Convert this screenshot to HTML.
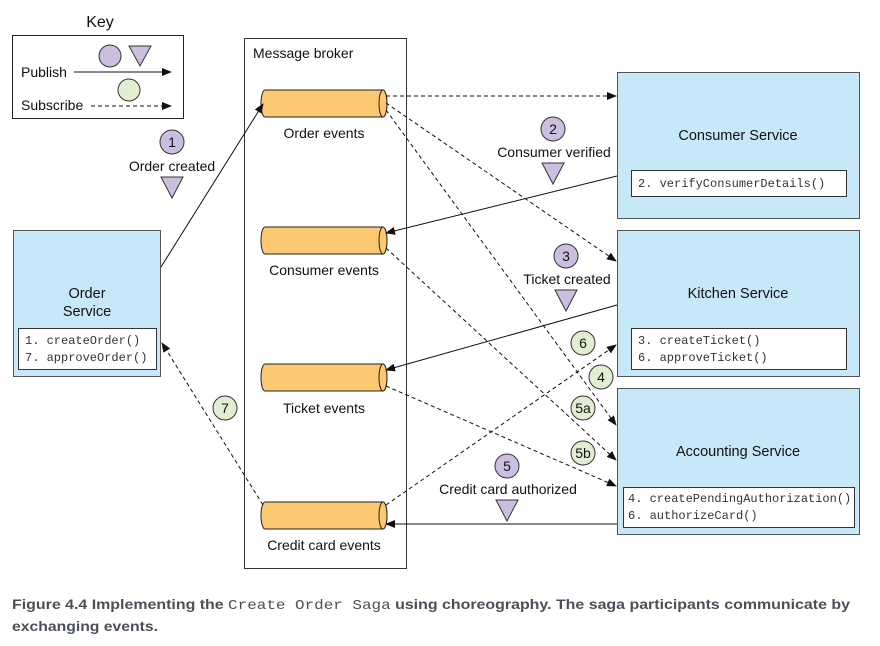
<!DOCTYPE html>
<html><head><meta charset="utf-8"><style>
html,body{margin:0;padding:0;background:#fff}
svg{display:block}
text{font-family:"Liberation Sans",sans-serif;fill:#111}
.m{font-family:"Liberation Mono",monospace;font-size:12px;fill:#333}
</style></head><body>
<svg width="880" height="646" viewBox="0 0 880 646" xmlns="http://www.w3.org/2000/svg">
<defs>
<marker id="a" markerWidth="10" markerHeight="8" refX="9" refY="4" orient="auto" markerUnits="userSpaceOnUse"><path d="M0,0 L10,4 L0,8 Z" fill="#111"/></marker>
<g id="cyl">
<path d="M0,0 H118 A4,13.5 0 0 1 118,27 H0 A4,13.5 0 0 1 0,0 Z" fill="#fdc872" stroke="#222" stroke-width="1"/>
<ellipse cx="118" cy="13.5" rx="4" ry="13.5" fill="#fdc872" stroke="#222" stroke-width="1"/>
</g>
</defs>
<!-- Key -->
<text x="100" y="27" font-size="16" text-anchor="middle">Key</text>
<rect x="12.5" y="35.5" width="171" height="83" fill="#fff" stroke="#222"/>
<circle cx="110" cy="56" r="11" fill="#cbbfe0" stroke="#333"/>
<path d="M129,46 L151,46 L140,66 Z" fill="#cbbfe0" stroke="#333"/>
<text x="21" y="77" font-size="14">Publish</text>
<line x1="74" y1="72" x2="171" y2="72" stroke="#111" marker-end="url(#a)"/>
<circle cx="129" cy="90" r="11" fill="#e2eed1" stroke="#333"/>
<text x="21" y="110" font-size="14">Subscribe</text>
<line x1="91" y1="106" x2="171" y2="106" stroke="#111" stroke-dasharray="4,3" marker-end="url(#a)"/>
<!-- broker -->
<rect x="244.5" y="38.5" width="162" height="530" fill="#fff" stroke="#333"/>
<text x="253" y="58" font-size="14">Message broker</text>
<use href="#cyl" x="265" y="90"/>
<text x="324" y="138" font-size="14" text-anchor="middle">Order events</text>
<use href="#cyl" x="265" y="227"/>
<text x="324" y="275" font-size="14" text-anchor="middle">Consumer events</text>
<use href="#cyl" x="265" y="364"/>
<text x="324" y="413" font-size="14" text-anchor="middle">Ticket events</text>
<use href="#cyl" x="265" y="502"/>
<text x="324" y="550" font-size="14" text-anchor="middle">Credit card events</text>
<!-- services -->
<rect x="13.5" y="230.5" width="147" height="146" fill="#c6e8f8" stroke="#555"/>
<text x="87" y="298" font-size="14.5" text-anchor="middle">Order</text>
<text x="87" y="316" font-size="14.5" text-anchor="middle">Service</text>
<rect x="18.5" y="328.5" width="138" height="41" fill="#fff" stroke="#333"/>
<text class="m" x="25" y="344">1. createOrder()</text>
<text class="m" x="25" y="361">7. approveOrder()</text>

<rect x="617.5" y="72.5" width="242" height="146" fill="#c6e8f8" stroke="#555"/>
<text x="738" y="140" font-size="14.5" text-anchor="middle">Consumer Service</text>
<rect x="631.5" y="170.5" width="215" height="26" fill="#fff" stroke="#333"/>
<text class="m" x="638" y="187">2. verifyConsumerDetails()</text>

<rect x="617.5" y="230.5" width="242" height="146" fill="#c6e8f8" stroke="#555"/>
<text x="738" y="298" font-size="14.5" text-anchor="middle">Kitchen Service</text>
<rect x="631.5" y="328.5" width="215" height="41" fill="#fff" stroke="#333"/>
<text class="m" x="638" y="344">3. createTicket()</text>
<text class="m" x="638" y="361">6. approveTicket()</text>

<rect x="617.5" y="388.5" width="242" height="146" fill="#c6e8f8" stroke="#555"/>
<text x="738" y="456" font-size="14.5" text-anchor="middle">Accounting Service</text>
<rect x="623.5" y="487.5" width="231" height="40" fill="#fff" stroke="#333"/>
<text class="m" x="628" y="502">4. createPendingAuthorization()</text>
<text class="m" x="628" y="519">6. authorizeCard()</text>
<!-- arrows -->
<g stroke="#111" fill="none" stroke-width="1">
<line x1="161" y1="267" x2="263" y2="104" marker-end="url(#a)"/>
<line x1="617" y1="176" x2="386" y2="233" marker-end="url(#a)"/>
<line x1="617" y1="305" x2="386" y2="370" marker-end="url(#a)"/>
<line x1="617" y1="524" x2="386" y2="524" marker-end="url(#a)"/>
<g stroke-dasharray="4,3">
<line x1="386" y1="96" x2="616" y2="96" marker-end="url(#a)"/>
<line x1="386" y1="103" x2="616" y2="261" marker-end="url(#a)"/>
<line x1="386" y1="110" x2="616" y2="425" marker-end="url(#a)"/>
<line x1="386" y1="248" x2="616" y2="460" marker-end="url(#a)"/>
<line x1="386" y1="386" x2="616" y2="486" marker-end="url(#a)"/>
<line x1="386" y1="505" x2="616" y2="345" marker-end="url(#a)"/>
<line x1="263" y1="505" x2="162" y2="343" marker-end="url(#a)"/>
</g>
</g>
<!-- event markers -->
<g font-size="14" text-anchor="middle">
<circle cx="172" cy="142" r="12" fill="#cbbfe0" stroke="#333"/><text x="172" y="147">1</text>
<text x="172" y="171">Order created</text>
<path d="M161,177 L183,177 L172,198 Z" fill="#cbbfe0" stroke="#333"/>
<circle cx="553" cy="129" r="12" fill="#cbbfe0" stroke="#333"/><text x="553" y="134">2</text>
<text x="554" y="157">Consumer verified</text>
<path d="M542,163 L564,163 L553,184 Z" fill="#cbbfe0" stroke="#333"/>
<circle cx="566" cy="256" r="12" fill="#cbbfe0" stroke="#333"/><text x="566" y="261">3</text>
<text x="567" y="284">Ticket created</text>
<path d="M555,290 L577,290 L566,311 Z" fill="#cbbfe0" stroke="#333"/>
<circle cx="507" cy="466" r="12" fill="#cbbfe0" stroke="#333"/><text x="507" y="471">5</text>
<text x="508" y="494">Credit card authorized</text>
<path d="M496,500 L518,500 L507,521 Z" fill="#cbbfe0" stroke="#333"/>
<circle cx="583" cy="343" r="12" fill="#e2eed1" stroke="#333"/><text x="583" y="348">6</text>
<circle cx="601" cy="377" r="12" fill="#e2eed1" stroke="#333"/><text x="601" y="382">4</text>
<circle cx="583" cy="408" r="12" fill="#e2eed1" stroke="#333"/><text x="583" y="413">5a</text>
<circle cx="583" cy="453" r="12" fill="#e2eed1" stroke="#333"/><text x="583" y="458">5b</text>
<circle cx="225" cy="408" r="12" fill="#e2eed1" stroke="#333"/><text x="225" y="413">7</text>
</g>
<!-- caption -->
<text x="12" y="609" font-size="14" font-weight="bold" style="fill:#4a5058" textLength="838" lengthAdjust="spacingAndGlyphs">Figure 4.4   Implementing the <tspan font-family="Liberation Mono" font-weight="normal">Create Order Saga</tspan> using choreography. The saga participants communicate by</text>
<text x="12" y="631" font-size="14" font-weight="bold" style="fill:#4a5058" textLength="146" lengthAdjust="spacingAndGlyphs">exchanging events.</text>
</svg>
</body></html>
